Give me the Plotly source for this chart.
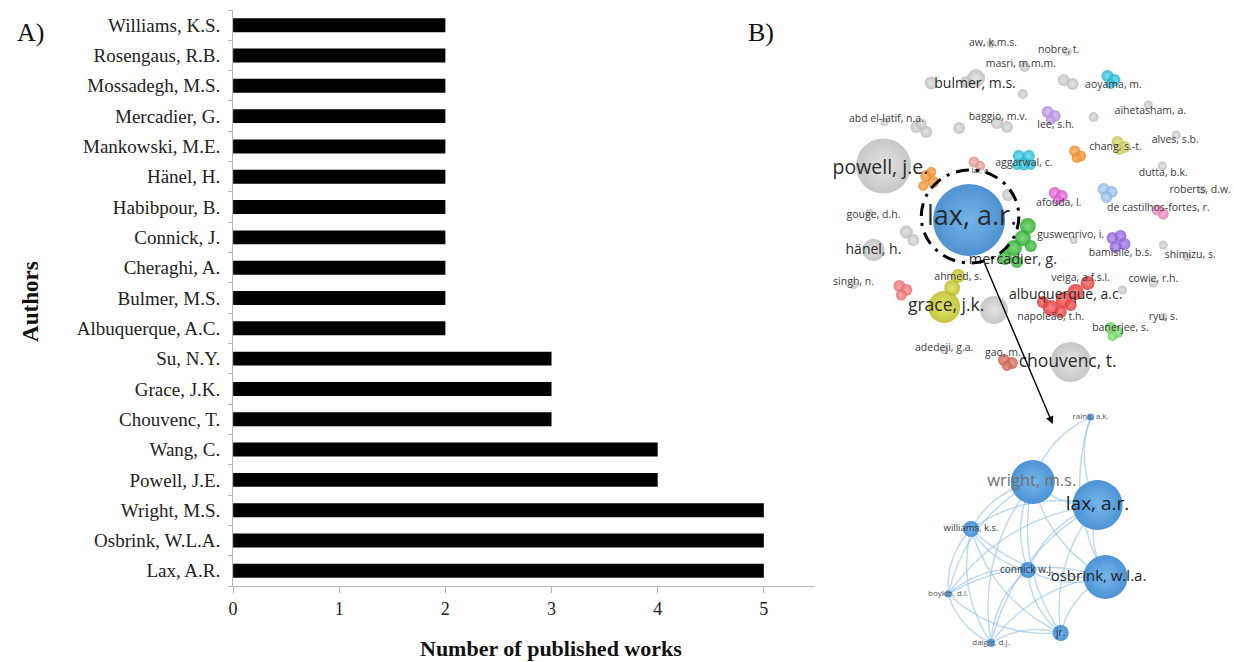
import numpy as np
import plotly.graph_objects as go

W, H = 1234, 662

# ---------------- Panel A data ----------------
authors = ["Lax, A.R.", "Osbrink, W.L.A.", "Wright, M.S.", "Powell, J.E.", "Wang, C.",
           "Chouvenc, T.", "Grace, J.K.", "Su, N.Y.", "Albuquerque, A.C.", "Bulmer, M.S.",
           "Cheraghi, A.", "Connick, J.", "Habibpour, B.", "Hänel, H.", "Mankowski, M.E.",
           "Mercadier, G.", "Mossadegh, M.S.", "Rosengaus, R.B.", "Williams, K.S."]
works = [5, 5, 5, 4, 4, 3, 3, 3, 2, 2, 2, 2, 2, 2, 2, 2, 2, 2, 2]
x_ticks = [0, 1, 2, 3, 4, 5]

# ---------------- Panel B data (network layout coordinates) ----------------
# upper map: nodes (x, y, diameter, colour group)
n_x = [990, 1067, 1024, 930, 965, 975, 1022, 1063, 1072, 883, 915, 925, 920, 958, 996, 1006,
       1093, 1148, 1176, 1162, 1202, 882, 1007, 868, 905, 912, 1073, 872, 1163, 1187, 852,
       993, 1122, 1153, 1163, 943, 1070,
       925, 932, 922, 930,
       973, 979,
       1018, 1028, 1023, 1016, 1030,
       1074, 1080, 1076,
       1117, 1124, 1119,
       1047, 1054, 1050,
       1107, 1114, 1110,
       1054, 1061, 1057,
       1103, 1111, 1106,
       1157, 1163,
       1112, 1120, 1124, 1115,
       1027, 1022, 1013, 1004, 1016, 1030,
       898, 905, 900,
       957, 951, 943,
       1087, 1075, 1063, 1050, 1060, 1042, 1070,
       1110, 1117, 1112,
       1003, 1011, 1006,
       968]
n_y = [44, 52, 67, 83, 82, 78, 94, 80, 84, 122, 127, 132, 124, 128, 123, 127,
       117, 105, 135, 166, 190, 166, 195, 213, 232, 240, 240, 250, 245, 257, 285,
       310, 290, 283, 317, 350, 362,
       176, 182, 186, 172,
       162, 166,
       156, 156, 164, 165, 165,
       151, 156, 158,
       142, 147, 150,
       112, 116, 120,
       76, 80, 84,
       193, 196, 200,
       189, 192, 197,
       210, 214,
       238, 236, 244, 247,
       226, 238, 248, 258, 262, 246,
       286, 290, 295,
       276, 288, 307,
       283, 292, 300, 308, 312, 302, 305,
       328, 332, 336,
       360, 363, 366,
       220]
n_d = [8, 8, 10, 13, 12, 18, 10, 12, 12, 8, 12, 12, 11, 12, 12, 12,
       10, 9, 9, 9, 8, 55, 12, 8, 13, 12, 8, 22, 9, 8, 8,
       28, 9, 9, 8, 8, 40,
       12, 12, 10, 10,
       11, 10,
       12, 12, 13, 10, 10,
       11, 11, 10,
       12, 12, 10,
       12, 12, 10,
       12, 12, 10,
       12, 12, 10,
       12, 12, 12,
       11, 11,
       12, 12, 12, 12,
       16, 16, 16, 14, 12, 12,
       12, 12, 11,
       14, 16, 32,
       14, 16, 16, 16, 12, 12, 12,
       12, 12, 10,
       12, 12, 10,
       72]
n_g = (["grey"] * 37 + ["orange"] * 4 + ["salmon"] * 2 + ["cyan"] * 5 + ["orange"] * 3 +
       ["olive"] * 3 + ["lilac"] * 3 + ["cyan"] * 3 + ["magenta"] * 3 + ["skyblue"] * 3 +
       ["pink"] * 2 + ["purple"] * 4 + ["green"] * 6 + ["rose"] * 3 + ["yellow"] * 3 +
       ["red"] * 7 + ["lime"] * 3 + ["brown"] * 3 + ["blue"])

lab_text = ["aw, k.m.s.", "nobre, t.", "masri, m.m.m.", "aoyama, m.", "abd el-latif, n.a.",
            "baggio, m.v.", "lee, s.h.", "aihetasham, a.", "alves, s.b.", "chang, s.-t.",
            "aggarwal, c.", "lai, a.", "dutta, b.k.", "roberts, d.w.", "afouda, l.",
            "de castilhos-fortes, r.", "gouge, d.h.", "guswenrivo, i.", "bamisile, b.s.",
            "shimizu, s.", "singh, n.", "ahmed, s.", "veiga, a.f.s.l.", "cowie, r.h.",
            "napoleão, t.h.", "ryu, s.", "banerjee, s.", "adedeji, g.a.", "gao, m.",
            "bulmer, m.s.", "hänel, h.", "mercadier, g.", "albuquerque, a.c.",
            "powell, j.e.", "grace, j.k.", "chouvenc, t.", "lax, a.r."]
lab_x = [992, 1058, 1020, 1113, 885, 997, 1055, 1150, 1175, 1115, 1023, 980, 1163, 1200, 1058,
         1158, 872, 1070, 1120, 1190, 852, 957, 1080, 1153, 1050, 1163, 1120, 943, 1002,
         974, 872, 1012, 1065, 879, 945, 1067, 971]
lab_y = [43, 50, 64, 85, 119, 117, 125, 111, 140, 147, 163, 171, 173, 190, 203, 208, 215, 235,
         253, 255, 282, 277, 278, 279, 317, 317, 328, 348, 353,
         84, 250, 260, 295, 169, 307, 363, 218]
lab_s = [10.5] * 11 + [8] + [10.5] * 17 + [14, 14, 14.5, 14, 19.5, 17.5, 17.5, 27]

# lower map: co-authorship sub-network
m_names = ["raina, a.k.", "wright, m.s.", "lax, a.r.", "williams, k.s.", "connick w.j.",
           "osbrink, w.l.a.", "boykin, d.l.", "jr.", "daigle, d.j."]
m_x = [1090, 1032, 1097, 970, 1027, 1105, 947, 1060, 990]
m_y = [417, 482, 505, 529, 570, 577, 594, 633, 643]
m_d = [7, 44, 50, 16, 16, 44, 7, 16, 8]
m_lx = [1090, 1031, 1097, 970, 1026, 1098, 947, 1060, 990]
m_ls = [8, 16.5, 19, 9.5, 10, 15, 8, 10, 8]
m_lc = ["#555", "#6f6f6f", "#1e1e1e", "#333", "#333", "#1e1e1e", "#555", "#333", "#555"]
m_edges = [(0, 1), (0, 2), (0, 5), (1, 2), (1, 3), (1, 4), (1, 5), (1, 6), (1, 7), (1, 8),
           (2, 3), (2, 4), (2, 5), (2, 6), (2, 7), (2, 8), (3, 4), (3, 5), (3, 6), (3, 7),
           (3, 8), (4, 5), (4, 6), (4, 7), (4, 8), (5, 6), (5, 7), (5, 8), (6, 7), (6, 8),
           (7, 8)]

palette = {"grey": ("#bdbdbd", "#dedede"), "blue": ("#2f7fc9", "#5aa6e6"),
           "orange": ("#ec8a2a", "#f8b060"), "salmon": ("#d99484", "#efbcae"),
           "cyan": ("#22b3cf", "#5fd6ea"), "olive": ("#c5c55a", "#e2e28a"),
           "lilac": ("#b18ad8", "#d2b6ef"), "magenta": ("#d655c8", "#f08de6"),
           "skyblue": ("#8ab5e6", "#b9d5f4"), "pink": ("#e67bb6", "#f6a8d4"),
           "purple": ("#8c5ed8", "#b491ef"), "green": ("#2faa2f", "#62d262"),
           "rose": ("#e86a6a", "#f59c9c"), "yellow": ("#bcbc22", "#dede55"),
           "red": ("#e13636", "#f57070"), "lime": ("#6ccc5c", "#9ee88e"),
           "brown": ("#c76050", "#e08c7e")}

fig = go.Figure()

# ---------------- Panel A ----------------
fig.add_trace(go.Bar(x=works, y=authors, orientation="h", marker=dict(color="black", line=dict(width=0)),
                     xaxis="x", yaxis="y", showlegend=False, hoverinfo="x+y"))

# ---------------- Panel B: upper map ----------------
fig.add_trace(go.Scatter(
    x=n_x, y=n_y, mode="markers", xaxis="x2", yaxis="y2", showlegend=False, hoverinfo="skip",
    cliponaxis=False,
    marker=dict(size=n_d, color=[palette[g][0] for g in n_g], opacity=0.85,
                line=dict(width=0),
                gradient=dict(type="radial", color=[palette[g][1] for g in n_g]))))
fig.add_trace(go.Scatter(
    x=lab_x, y=lab_y, text=lab_text, mode="text", xaxis="x2", yaxis="y2", showlegend=False,
    hoverinfo="skip", cliponaxis=False,
    textfont=dict(family="Open Sans", size=lab_s,
                  color=["#3a3a3a"] * 29 + ["#2a2a2a"] * 8)))

# ---------------- Panel B: lower map ----------------
for a, b in m_edges:
    p0 = np.array([m_x[a], m_y[a]], float)
    p1 = np.array([m_x[b], m_y[b]], float)
    mid = (p0 + p1) / 2
    dv = p1 - p0
    perp = np.array([-dv[1], dv[0]])
    ctrl = mid + 0.22 * perp
    t = np.linspace(0, 1, 30)[:, None]
    pts = (1 - t) ** 2 * p0 + 2 * (1 - t) * t * ctrl + t ** 2 * p1
    fig.add_trace(go.Scatter(x=pts[:, 0], y=pts[:, 1], mode="lines", xaxis="x2", yaxis="y2",
                             line=dict(color="rgba(140,190,235,0.6)", width=1.4),
                             showlegend=False, hoverinfo="skip", cliponaxis=False))
fig.add_trace(go.Scatter(
    x=m_x, y=m_y, mode="markers", xaxis="x2", yaxis="y2", showlegend=False, hoverinfo="skip",
    cliponaxis=False,
    marker=dict(size=m_d, color="#3d8ad2", opacity=0.92, line=dict(width=0),
                gradient=dict(type="radial", color="#6cb1ea"))))
fig.add_trace(go.Scatter(
    x=m_lx, y=m_y, text=m_names, mode="text", xaxis="x2", yaxis="y2", showlegend=False,
    hoverinfo="skip", cliponaxis=False,
    textfont=dict(family="Open Sans", size=m_ls, color=m_lc)))

# dashed highlight and arrow
fig.add_shape(type="circle", xref="x2", yref="y2", x0=920, x1=1018, y0=170, y1=263,
              line=dict(color="black", width=3, dash="13px,7px,3px,7px"))
fig.add_annotation(x=1052, y=424, ax=983, ay=262, xref="x2", yref="y2", axref="x2", ayref="y2",
                   text="", showarrow=True, arrowhead=2, arrowsize=1.1, arrowwidth=1.4,
                   arrowcolor="black")

def px(x, y):
    return x / W, 1 - y / H

serif = "Liberation Serif, Times New Roman, serif"
for txt, (x, y), size, bold, ang in [
        ("A)", (26, 33), 26, False, 0), ("B)", (759, 33), 26, False, 0),
        ("Number of published works", (548, 648), 22, True, 0),
        ("Authors", (25, 301), 23, True, -90)]:
    xp, yp = px(x, y)
    fig.add_annotation(x=xp, y=yp, xref="paper", yref="paper", showarrow=False,
                       xanchor="center", yanchor="middle",
                       text=f"<b>{txt}</b>" if bold else txt, textangle=ang,
                       font=dict(family=serif, size=size, color="#111"))

fig.update_layout(
    width=W, height=H, margin=dict(l=0, r=0, t=0, b=0),
    paper_bgcolor="white", plot_bgcolor="rgba(0,0,0,0)", bargap=0.54,
    xaxis=dict(domain=[229 / W, 812 / W], range=[0, 5.47], tickvals=x_ticks,
               showline=True, linecolor="#b5b5b5", linewidth=1, ticks="outside", ticklen=6,
               tickcolor="#b5b5b5", showgrid=False, zeroline=False,
               tickfont=dict(family=serif, size=18, color="#222"), fixedrange=True),
    yaxis=dict(domain=[1 - 586 / H, 1 - 10 / H], type="category", categoryorder="array",
               categoryarray=authors, tickson="boundaries", ticks="outside", ticklen=4,
               tickcolor="#b5b5b5", showline=True, linecolor="#b5b5b5", linewidth=1,
               showgrid=False, zeroline=False, ticklabelstandoff=8,
               tickfont=dict(family=serif, size=19, color="#222"), fixedrange=True),
    xaxis2=dict(domain=[814 / W, 1], range=[814, 1234], visible=False, fixedrange=True),
    yaxis2=dict(domain=[0, 1], range=[662, 0], visible=False, fixedrange=True),
)

fig.write_html("out.html", config={"displayModeBar": False},
               post_script="document.body.style.margin='0px';")
